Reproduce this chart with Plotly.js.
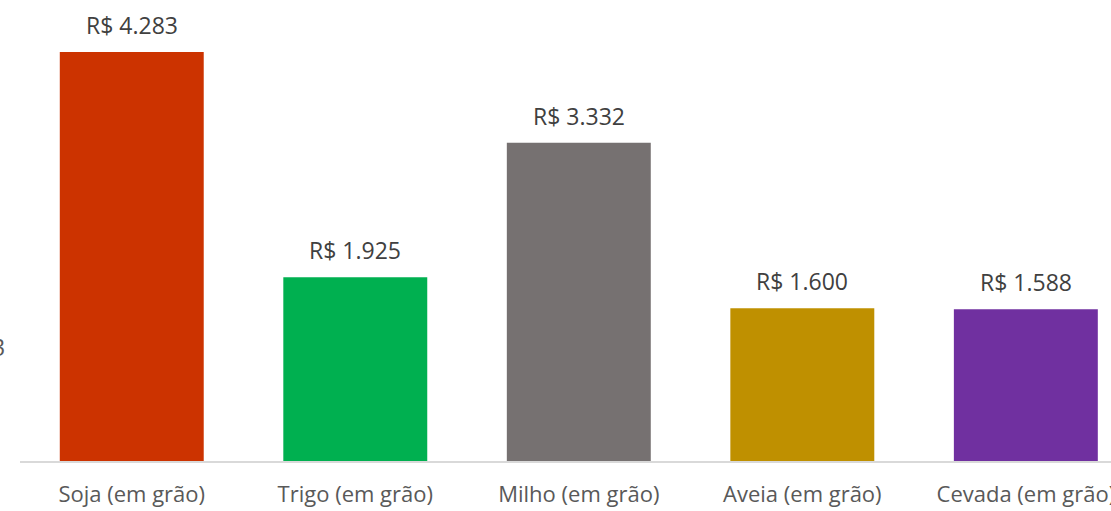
<!DOCTYPE html>
<html>
<head>
<meta charset="utf-8">
<script src="https://cdn.plot.ly/plotly-3.0.1.min.js"></script>
<style>html,body{margin:0;padding:0;overflow:hidden;background:#fff}</style>
</head>
<body>
<div id="chart" style="width:1111px;height:511px"></div>
<script>
const categories = ["Soja (em grão)", "Trigo (em grão)", "Milho (em grão)", "Aveia (em grão)", "Cevada (em grão)"];
const values = [4283, 1925, 3332, 1600, 1588];
const colors = ["#CC3300", "#00B050", "#767171", "#BF9000", "#7030A0"];

const fontFam = "Open Sans, Noto Sans, sans-serif";

const trace = {
  type: "bar",
  x: categories,
  y: values,
  marker: {color: colors},
  hoverinfo: "none"
};

const annotations = categories.map((c, i) => ({
  x: c, y: values[i], xref: "x", yref: "y",
  text: "R$ " + values[i].toLocaleString("de-DE"),
  showarrow: false, yanchor: "bottom", yshift: 9,
  font: {family: fontFam, size: 23, color: "#404040"}
}));
annotations.push({
  xref: "paper", yref: "paper", x: 0, y: (461 - 347) / 461,
  xanchor: "right", yanchor: "middle", xshift: -13,
  text: "3", showarrow: false,
  font: {family: fontFam, size: 23, color: "#595959"}
});

const layout = {
  width: 1111, height: 511,
  margin: {l: 20, r: 0, t: 0, b: 50},
  paper_bgcolor: "#fff", plot_bgcolor: "#fff",
  bargap: 0.356,
  showlegend: false,
  xaxis: {
    range: [-0.5, 4.381],
    showgrid: false, zeroline: false,
    showline: true, linecolor: "#D9D9D9", linewidth: 1.5,
    ticks: "", ticklabelstandoff: 13,
    tickfont: {family: fontFam, size: 22, color: "#595959"}
  },
  yaxis: {
    range: [0, 4828],
    showgrid: false, zeroline: false, showline: false,
    showticklabels: false, ticks: ""
  },
  annotations: annotations
};

Plotly.newPlot("chart", [trace], layout, {displayModeBar: false, staticPlot: true});
</script>
</body>
</html>
